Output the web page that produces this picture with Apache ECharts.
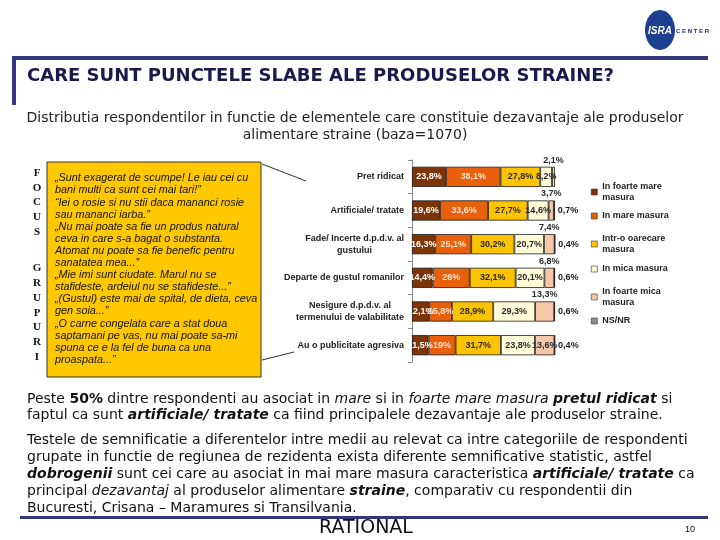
<!DOCTYPE html>
<html>
<head>
<meta charset="utf-8">
<script src="https://cdn.jsdelivr.net/npm/echarts@6/dist/echarts.min.js"></script>
<style>
html,body{margin:0;padding:0;background:#fff;}
#c{width:720px;height:540px;}
</style>
</head>
<body>
<div id="c"></div>
<script>
// ---- data ----
const categories = [
  'Pret ridicat',
  'Artificiale/ tratate',
  'Fade/ Incerte d.p.d.v. al\ngustului',
  'Departe de gustul romanilor',
  'Nesigure d.p.d.v. al\ntermenului de valabilitate',
  'Au o publicitate agresiva'
];
const seriesNames = [
  'In foarte mare\nmasura',
  'In mare masura',
  'Intr-o oarecare\nmasura',
  'In mica masura',
  'In foarte mica\nmasura',
  'NS/NR'
];
const foarteMare   = [23.8, 19.6, 16.3, 14.4, 12.1, 11.5];
const mare         = [38.1, 33.6, 25.1, 26, 15.8, 19];
const oarecare     = [27.8, 27.7, 30.2, 32.1, 28.9, 31.7];
const mica         = [8.2, 14.6, 20.7, 20.1, 29.3, 23.8];
const foarteMica   = [2.1, 3.7, 7.4, 6.8, 13.3, 13.6];
const nsnr         = [0.4, 0.7, 0.4, 0.6, 0.6, 0.4];
const seriesValues = [foarteMare, mare, oarecare, mica, foarteMica, nsnr];

const quoteLines = [
  '\u201ESunt exagerat de scumpe! Le iau cei cu',
  'bani multi ca sunt cei mai tari!\u201D',
  '\u201CIei o rosie si nu stii daca mananci rosie',
  'sau mananci iarba.\u201D',
  '\u201ENu mai poate sa fie un produs natural',
  'ceva in care s-a bagat o substanta.',
  'Atomat nu poate sa fie benefic pentru',
  'sanatatea mea...\u201D',
  '\u201EMie imi sunt ciudate. Marul nu se',
  'stafideste, ardeiul nu se stafideste...\u201D',
  '\u201E(Gustul) este mai de spital, de dieta, ceva',
  'gen soia...\u201D',
  '\u201EO carne congelata care a stat doua',
  'saptamani pe vas, nu mai poate sa-mi',
  'spuna ce e la fel de buna ca una',
  'proaspata...\u201D'
];
const bottomLines = [
  'Peste {b|50%} dintre respondenti au asociat in {i|mare} si in {i|foarte mare masura} {bi|pretul ridicat} si',
  'faptul ca sunt {bi|artificiale/ tratate} ca fiind principalele dezavantaje ale produselor straine.',
  'Testele de semnificatie a diferentelor intre medii au relevat ca intre categoriile de respondenti',
  'grupate in functie de regiunea de rezidenta exista diferente semnificative statistic, astfel',
  '{bi|dobrogenii} sunt cei care au asociat in mai mare masura caracteristica {bi|artificiale/ tratate} ca',
  'principal {i|dezavantaj} al produselor alimentare {bi|straine}, comparativ cu respondentii din',
  'Bucuresti, Crisana \u2013 Maramures si Transilvania.'
];
const bottomY = [399, 415, 440, 457, 474, 491, 508];

// ---- styles ----
const colors = ['#7d3508', '#e8600c', '#fbc300', '#fffad8', '#f6c8a8', '#8c8c8c'];
const labelColors = ['#ffffff', '#fde3cf', '#2a2a2a', '#2a2a2a', '#2a2a2a', '#1a1a1a'];
const fmt = p => String(p.value).replace('.', ',') + '%';
const LF = 'Liberation Sans';
const BF = 'DejaVu Sans';

const series = seriesValues.map((vals, si) => {
  let label;
  if (si < 4) {
    label = {show: true, position: 'inside', color: labelColors[si], fontFamily: LF, fontWeight: 'bold', fontSize: 9, formatter: fmt};
  } else if (si === 4) {
    label = {show: true, position: 'top', distance: 2, color: labelColors[si], fontFamily: LF, fontWeight: 'bold', fontSize: 9, formatter: fmt};
  } else {
    label = {show: true, position: 'right', distance: 3, color: labelColors[si], fontFamily: LF, fontWeight: 'bold', fontSize: 9, formatter: fmt};
  }
  const data = vals.map((v, i) => {
    if (si === 4 && i === vals.length - 1) {
      return {value: v, label: {position: 'inside'}};
    }
    return v;
  });
  return {
    name: seriesNames[si],
    type: 'bar',
    stack: 'all',
    barWidth: '60%',
    itemStyle: {color: colors[si], borderColor: '#1a1a1a', borderWidth: 0.8},
    label: label,
    emphasis: {disabled: true},
    data: data
  };
});

const legendIconY = [192, 216, 244, 269, 297, 321];
const legends = seriesNames.map((n, i) => {
  const twoLine = n.indexOf('\n') >= 0;
  return {
    data: [n],
    orient: 'vertical',
    left: 591,
    top: twoLine ? legendIconY[i] - 16.5 : legendIconY[i] - 5.5,
    padding: 0,
    itemWidth: 6,
    itemHeight: 6,
    itemGap: 4,
    icon: 'rect',
    selectedMode: false,
    itemStyle: {borderWidth: 0.6, borderColor: '#333'},
    textStyle: {
      fontFamily: LF, fontWeight: 'bold', fontSize: 9, color: '#222', lineHeight: 11,
      padding: twoLine ? [11, 0, 0, 0] : 0
    }
  };
});

const graphics = [];
// logo
graphics.push({type: 'ellipse', shape: {cx: 660, cy: 30, rx: 15, ry: 20}, style: {fill: '#1c3f8f'}});
graphics.push({type: 'text', x: 660, y: 31, style: {text: 'ISRA', fill: '#fff', font: 'italic bold 10px "Liberation Sans"', textAlign: 'center', textVerticalAlign: 'middle'}});
graphics.push({type: 'text', x: 676, y: 31, style: {text: 'C E N T E R', fill: '#1c2f6f', font: 'bold 6px "Liberation Sans"', textAlign: 'left', textVerticalAlign: 'middle'}});
// frame lines
graphics.push({type: 'rect', shape: {x: 12, y: 56, width: 696, height: 4}, style: {fill: '#36367f'}});
graphics.push({type: 'rect', shape: {x: 12, y: 56, width: 4, height: 49}, style: {fill: '#36367f'}});
// title
graphics.push({type: 'text', x: 27, y: 76, style: {text: 'CARE SUNT PUNCTELE SLABE ALE PRODUSELOR STRAINE?', fill: '#1a1a4d', font: 'bold 18px "DejaVu Sans"', textVerticalAlign: 'middle'}});
// subtitle
graphics.push({type: 'text', x: 355, y: 118, style: {text: 'Distributia respondentilor in functie de elementele care constituie dezavantaje ale produselor', fill: '#222', font: '14px "DejaVu Sans"', textAlign: 'center', textVerticalAlign: 'middle'}});
graphics.push({type: 'text', x: 355, y: 135, style: {text: 'alimentare straine (baza=1070)', fill: '#222', font: '14px "DejaVu Sans"', textAlign: 'center', textVerticalAlign: 'middle'}});
// focus grupuri letters
graphics.push({type: 'text', x: 37, y: 166, style: {text: 'F\nO\nC\nU\nS', fill: '#111', font: 'bold 11px "Liberation Serif"', lineHeight: 14.6, textAlign: 'center', textVerticalAlign: 'top'}});
graphics.push({type: 'text', x: 37, y: 261, style: {text: 'G\nR\nU\nP\nU\nR\nI', fill: '#111', font: 'bold 11px "Liberation Serif"', lineHeight: 14.8, textAlign: 'center', textVerticalAlign: 'top'}});
// quote box
graphics.push({type: 'rect', shape: {x: 47, y: 162, width: 214, height: 215}, style: {fill: '#ffc800', stroke: '#333', lineWidth: 1}});
quoteLines.forEach((t, i) => {
  graphics.push({type: 'text', x: 55, y: 178.3 + i * 12.1, style: {text: t, fill: '#111', font: 'italic 10.8px "Liberation Sans"', textVerticalAlign: 'middle'}});
});
// callout lines
graphics.push({type: 'line', shape: {x1: 262, y1: 164, x2: 306, y2: 181}, style: {stroke: '#333', lineWidth: 1}});
graphics.push({type: 'line', shape: {x1: 262, y1: 360, x2: 294, y2: 352}, style: {stroke: '#333', lineWidth: 1}});
// bottom paragraphs
const richBase = {fontFamily: BF, fontSize: 14, fill: '#111'};
const rich = {
  b: Object.assign({}, richBase, {fontWeight: 'bold'}),
  i: Object.assign({}, richBase, {fontStyle: 'italic'}),
  bi: Object.assign({}, richBase, {fontWeight: 'bold', fontStyle: 'italic'})
};
bottomLines.forEach((t, i) => {
  graphics.push({type: 'text', x: 27, y: bottomY[i], style: Object.assign({text: t, rich: rich, textVerticalAlign: 'middle'}, richBase)});
});
// footer
graphics.push({type: 'rect', shape: {x: 20, y: 516, width: 688, height: 3}, style: {fill: '#36367f'}});
graphics.push({type: 'text', x: 366, y: 528, style: {text: 'RATIONAL', fill: '#111', font: '19px "DejaVu Sans"', textAlign: 'center', textVerticalAlign: 'middle'}});
graphics.push({type: 'text', x: 690, y: 530, style: {text: '10', fill: '#111', font: '9px "Liberation Sans"', textAlign: 'center', textVerticalAlign: 'middle'}});

const chart = echarts.init(document.getElementById('c'), null, {renderer: 'canvas'});
chart.setOption({
  backgroundColor: '#fff',
  animation: false,
  grid: {left: 412, right: 165, top: 160, bottom: 178, containLabel: false},
  xAxis: {type: 'value', min: 0, max: 100, show: false},
  yAxis: {
    type: 'category',
    data: categories,
    inverse: true,
    axisLine: {show: true, lineStyle: {color: '#888', width: 1}},
    axisTick: {show: true, length: 4, lineStyle: {color: '#888'}},
    axisLabel: {
      margin: 8,
      fontFamily: LF, fontWeight: 'bold', fontSize: 9, color: '#222', lineHeight: 12,
      formatter: v => v.split('\n').map(s => '{c|' + s + '}').join('\n'),
      rich: {c: {align: 'center', fontFamily: LF, fontWeight: 'bold', fontSize: 9, color: '#222', lineHeight: 12}}
    }
  },
  legend: legends,
  series: series,
  graphic: graphics
});
</script>
</body>
</html>
